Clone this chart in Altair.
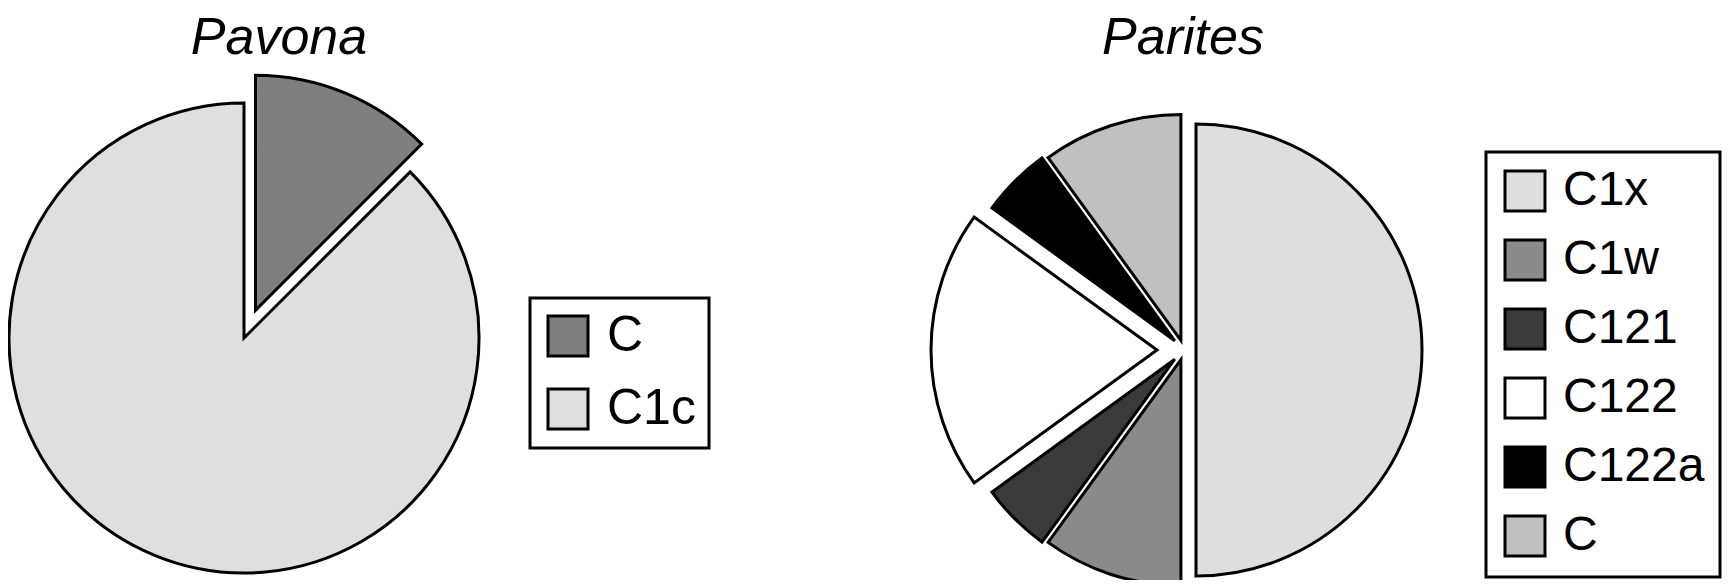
import altair as alt
import pandas as pd

# ---- data ----
titles = ["Pavona", "Parites"]

pavona_cats = ["C", "C1c"]
pavona_vals = [12.5, 87.5]
pavona_colors = ["#7f7f7f", "#dfdfdf"]
pavona_explode = [30, 0]

parites_cats = ["C1x", "C1w", "C121", "C122", "C122a", "C"]
parites_vals = [50, 10, 5, 20, 5, 10]
parites_colors = ["#dedede", "#8a8a8a", "#3a3a3a", "#ffffff", "#000000", "#c0c0c0"]
parites_explode = [12, 10, 13, 27, 13, 10]

W, H = 1714, 572
FONT = "Liberation Sans"


def pie(cats, vals, explode, colors, cx, cy, r, legend):
    df = pd.DataFrame({"cat": cats, "value": vals, "explode": explode,
                       "order": list(range(len(cats)))})
    return (
        alt.Chart(df)
        .transform_joinaggregate(total="sum(value)")
        .transform_window(cum="sum(value)", sort=[alt.SortField("order")], frame=[None, 0])
        .transform_calculate(t1="2*PI*datum.cum/datum.total")
        .transform_calculate(t0="2*PI*(datum.cum-datum.value)/datum.total")
        .transform_calculate(mid="(datum.t0+datum.t1)/2")
        .transform_calculate(px=f"{cx} + datum.explode*sin(datum.mid)")
        .transform_calculate(py=f"{cy} - datum.explode*cos(datum.mid)")
        .mark_arc(radius=r, stroke="black", strokeWidth=3, strokeJoin="miter")
        .encode(
            theta=alt.Theta("t0:Q", scale=None),
            theta2="t1:Q",
            x=alt.X("px:Q", scale=None, axis=None),
            y=alt.Y("py:Q", scale=None, axis=None),
            fill=alt.Fill("cat:N", scale=alt.Scale(domain=cats, range=colors), legend=legend),
            order="order:Q",
        )
    )


def make_legend(lx, ly, row_pad, pad, font_size, label_expr=None):
    kw = {}
    if label_expr:
        kw["labelExpr"] = label_expr
    return alt.Legend(
        title=None, orient="none", legendX=lx, legendY=ly,
        symbolType="square", symbolSize=1600, symbolStrokeColor="black",
        symbolStrokeWidth=3, symbolOpacity=1,
        labelFontSize=font_size, labelFont=FONT, labelColor="black", labelOffset=14,
        labelLimit=400, rowPadding=row_pad, padding=pad, strokeColor="black",
        **kw,
    )


pavona = pie(pavona_cats, pavona_vals, pavona_explode, pavona_colors,
             236, 330, 235,
             make_legend(522, 290, 21, 13, 50, "datum.label + '\u00a0\u00a0'"))
parites = pie(parites_cats, parites_vals, parites_explode, parites_colors,
              1176, 342, 226, make_legend(1478, 144, 17, 15, 48))

t1 = alt.Chart(pd.DataFrame({"t": [titles[0]]})).mark_text(
    font=FONT, fontSize=52, fontStyle="italic", align="center", baseline="alphabetic", color="black"
).encode(text="t:N", x=alt.value(271), y=alt.value(46))
t2 = alt.Chart(pd.DataFrame({"t": [titles[1]]})).mark_text(
    font=FONT, fontSize=52, fontStyle="italic", align="center", baseline="alphabetic", color="black"
).encode(text="t:N", x=alt.value(1175), y=alt.value(46))

chart = (
    alt.layer(pavona, parites, t1, t2)
    .resolve_scale(fill="independent")
    .properties(width=W, height=H, padding=0, autosize=alt.AutoSizeParams(type="none"))
    .configure_view(strokeWidth=0)
    .configure_legend(strokeWidth=3)
)

chart.save("out.html", embed_options={"renderer": "svg", "actions": False})
